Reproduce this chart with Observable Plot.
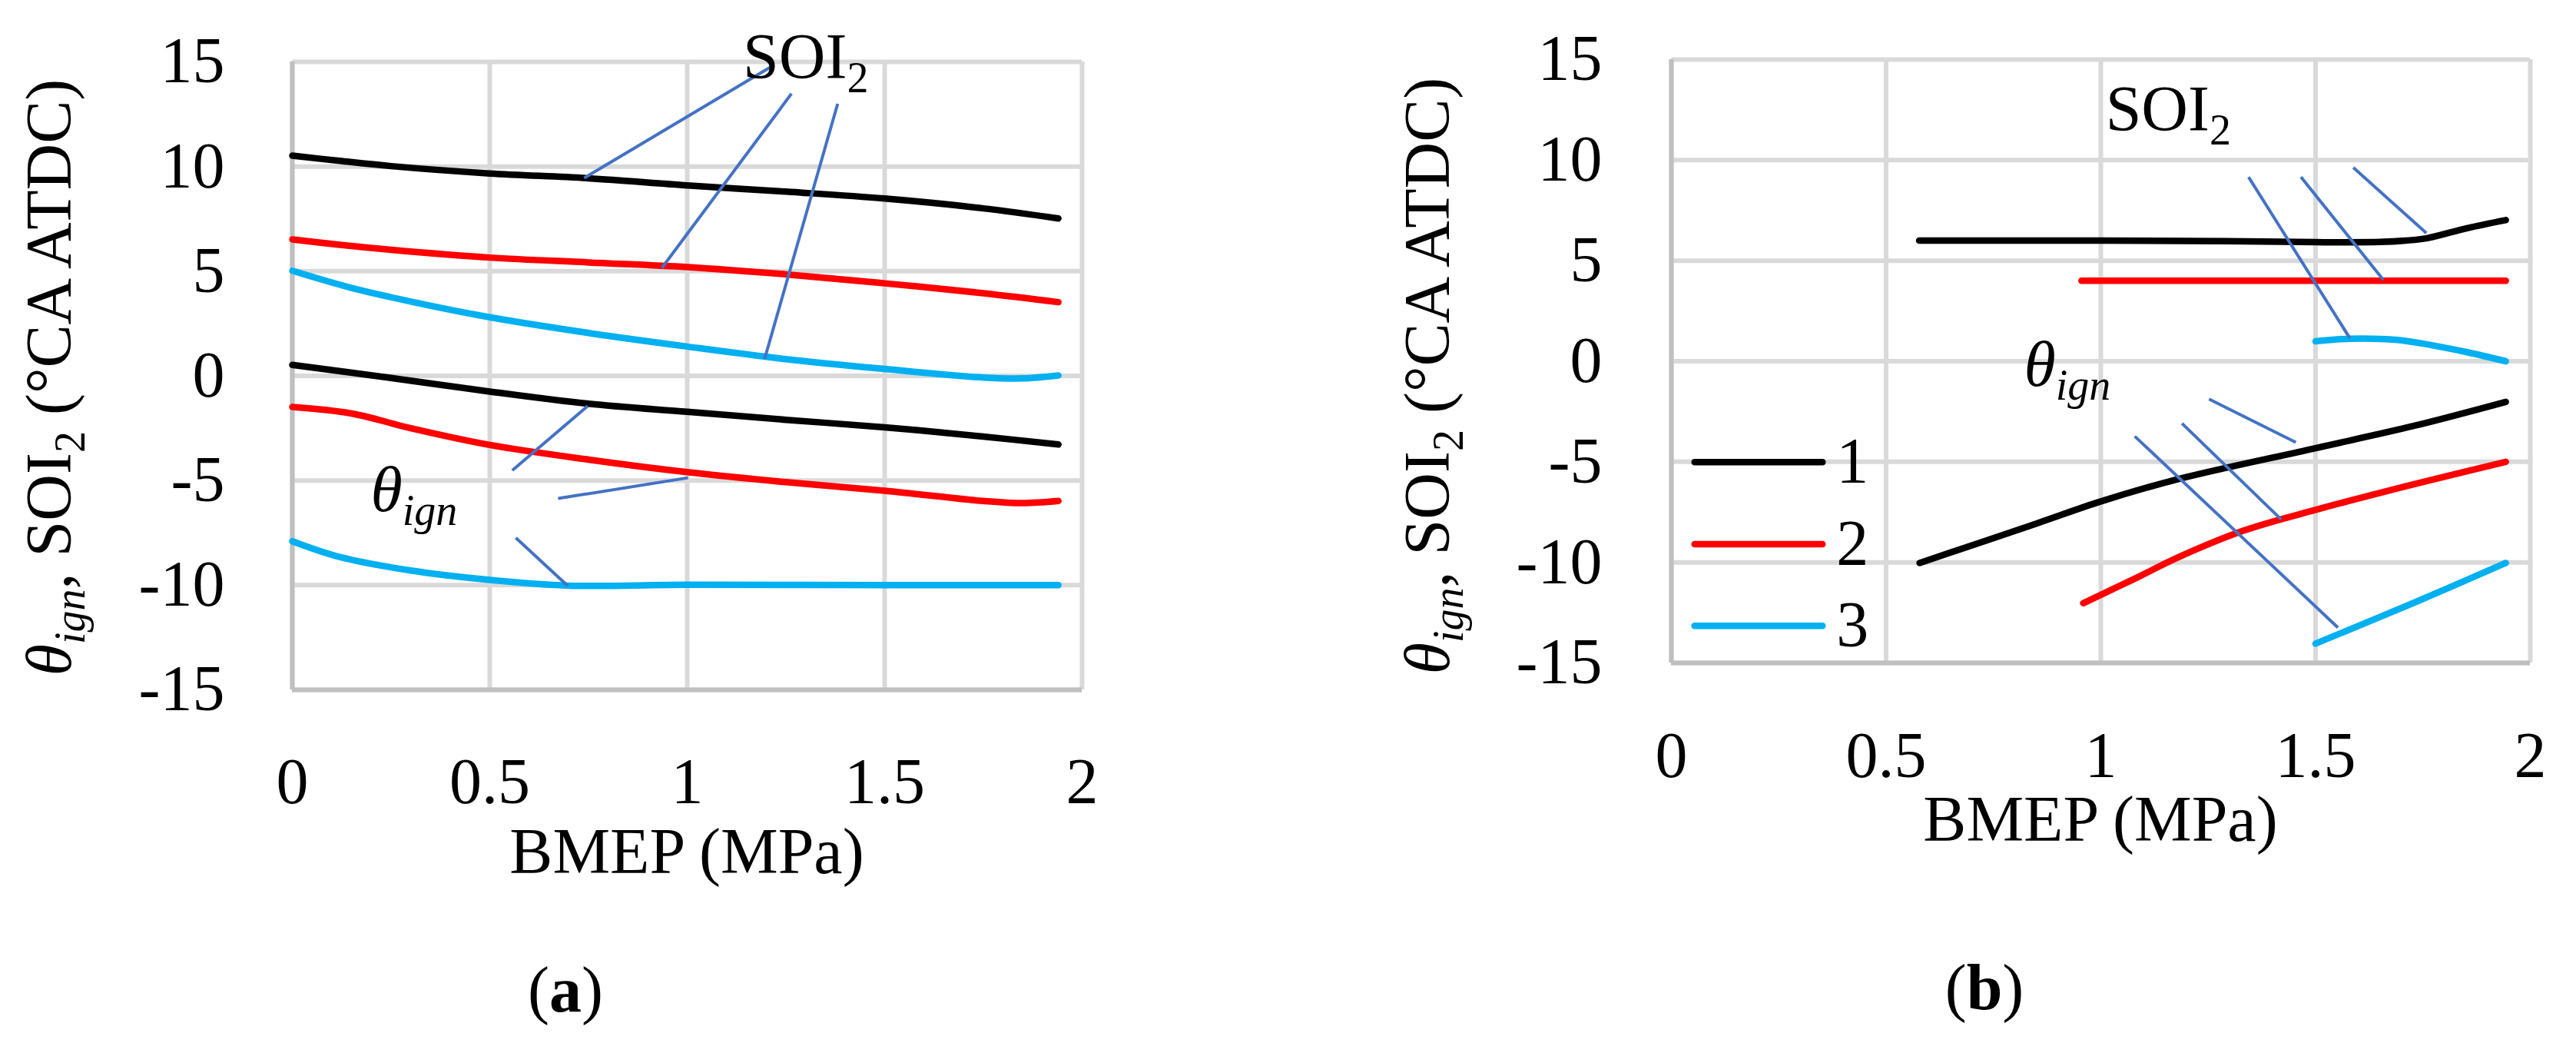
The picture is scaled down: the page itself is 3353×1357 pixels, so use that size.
<!DOCTYPE html>
<html>
<head>
<meta charset="utf-8">
<script src="https://cdn.jsdelivr.net/npm/d3@7"></script>
<script src="https://cdn.jsdelivr.net/npm/@observablehq/plot@0.6"></script>
<style>
  html, body { margin: 0; padding: 0; background: #fff; }
  #fig { position: relative; width: 3353px; height: 1357px; font-family: 'Liberation Serif', serif; color: #000; }
  .panel { position: absolute; top: 0; }
  .cap { position: absolute; font-size: 84px; line-height: 1; transform: translateX(-50%); white-space: nowrap; }
</style>
</head>
<body>
<div id="fig">
  <div id="panelA" class="panel" style="left:0px"></div>
  <div id="panelB" class="panel" style="left:1676px"></div>
  <div class="cap" style="left:736px; top:1246px">(<b>a</b>)</div>
  <div class="cap" style="left:2583px; top:1243px">(<b>b</b>)</div>
</div>
<script>
/* ticks, series names and colours */
const bmepTicks = [0, 0.5, 1, 1.5, 2]
const angleTicks = [-15, -10, -5, 0, 5, 10, 15]
const runs = ['1', '2', '3']
const runColors = ['#000000', '#ff0000', '#00b0f0']

/* (a) SOI2 curves */
const aSoi1X = [0, 0.12, 0.25, 0.5, 0.75, 1.0, 1.25, 1.5, 1.75, 1.94]
const aSoi1Y = [10.52, 10.27, 10.02, 9.67, 9.44, 9.1, 8.8, 8.47, 8.0, 7.52]
const aSoi2X = [0, 0.12, 0.25, 0.5, 0.75, 1.0, 1.25, 1.5, 1.75, 1.94]
const aSoi2Y = [6.52, 6.26, 6.02, 5.65, 5.42, 5.2, 4.85, 4.42, 3.95, 3.52]
const aSoi3X = [0, 0.15, 0.3, 0.5, 0.75, 1.0, 1.25, 1.5, 1.75, 1.85, 1.94]
const aSoi3Y = [5.02, 4.2, 3.55, 2.8, 2.05, 1.4, 0.8, 0.33, -0.08, -0.12, 0.02]

/* (a) ignition angle curves */
const aIgn1X = [0, 0.25, 0.5, 0.75, 1.0, 1.25, 1.5, 1.75, 1.94]
const aIgn1Y = [0.52, -0.1, -0.75, -1.33, -1.72, -2.1, -2.46, -2.9, -3.28]
const aIgn2X = [0, 0.15, 0.3, 0.5, 0.75, 1.0, 1.25, 1.5, 1.75, 1.85, 1.94]
const aIgn2Y = [-1.49, -1.8, -2.5, -3.3, -4.0, -4.6, -5.08, -5.49, -5.98, -6.08, -5.98]
const aIgn3X = [0, 0.12, 0.3, 0.5, 0.7, 1.0, 1.5, 1.94]
const aIgn3Y = [-7.9, -8.65, -9.3, -9.75, -10.02, -9.98, -10.0, -10.0]

/* (b) SOI2 curves */
const bSoi1X = [0.577, 1.0, 1.29, 1.5, 1.65, 1.71, 1.76, 1.853, 1.943]
const bSoi1Y = [6.0, 6.0, 5.97, 5.92, 5.93, 6.0, 6.12, 6.62, 7.02]
const bSoi2X = [0.955, 1.943]
const bSoi2Y = [4.0, 4.0]
const bSoi3X = [1.5, 1.58, 1.69, 1.77, 1.853, 1.943]
const bSoi3Y = [0.99, 1.12, 1.06, 0.8, 0.45, 0.0]

/* (b) ignition angle curves */
const bIgn1X = [0.578, 0.85, 1.0, 1.18, 1.5, 1.73, 1.943]
const bIgn1Y = [-10.03, -8.07, -6.97, -5.86, -4.32, -3.21, -2.02]
const bIgn2X = [0.959, 1.08, 1.18, 1.334, 1.5, 1.73, 1.943]
const bIgn2Y = [-12.03, -10.8, -9.75, -8.41, -7.39, -6.11, -5.0]
const bIgn3X = [1.5, 1.73, 1.943]
const bIgn3Y = [-14.04, -12.0, -10.03]

/* leader lines of the annotations, in data units */
const aLeaders = [
  {x1: 0.739, y1: 9.45, x2: 1.22, y2: 14.85},
  {x1: 0.936, y1: 5.16, x2: 1.264, y2: 13.48},
  {x1: 1.196, y1: 0.81, x2: 1.381, y2: 13.0},
  {x1: 0.557, y1: -4.52, x2: 0.748, y2: -1.44},
  {x1: 0.673, y1: -5.86, x2: 1.002, y2: -4.87},
  {x1: 0.566, y1: -7.74, x2: 0.698, y2: -10.04},
]
const bLeaders = [
  {x1: 1.344, y1: 9.16, x2: 1.58, y2: 1.14},
  {x1: 1.466, y1: 9.16, x2: 1.658, y2: 4.04},
  {x1: 1.588, y1: 9.63, x2: 1.758, y2: 6.37},
  {x1: 1.252, y1: -1.88, x2: 1.454, y2: -4.03},
  {x1: 1.189, y1: -3.09, x2: 1.42, y2: -7.87},
  {x1: 1.079, y1: -3.73, x2: 1.552, y2: -13.24},
]
/* annotation anchors (left end of text baseline) */
const aSoiLabel = [1.301, 14.2]
const aIgnLabel = [0.309, -6.48]
const bSoiLabel = [1.158, 11.46]
const bIgnLabel = [0.923, -1.24]

/* legend of panel (b) */
const legendY = [-5.02, -9.10, -13.16]
const legendX = [0.054, 0.352]
const legendTextX = 0.384

const FONT = "'Liberation Serif', 'Times New Roman', serif"
const FS = 84
const SUB = 56
const SHIFT = 18
const GRID = '#d9d9d9'
const AXIS = '#bfbfbf'
const LEADER = '#4472c4'

function rows(kind, run, xs, ys) {
  return xs.map((x, i) => ({kind, run, x, y: ys[i]}))
}

const dataA = [
  ...rows('soi', '1', aSoi1X, aSoi1Y),
  ...rows('soi', '2', aSoi2X, aSoi2Y),
  ...rows('soi', '3', aSoi3X, aSoi3Y),
  ...rows('ign', '1', aIgn1X, aIgn1Y),
  ...rows('ign', '2', aIgn2X, aIgn2Y),
  ...rows('ign', '3', aIgn3X, aIgn3Y),
]
const dataB = [
  ...rows('soi', '1', bSoi1X, bSoi1Y),
  ...rows('soi', '2', bSoi2X, bSoi2Y),
  ...rows('soi', '3', bSoi3X, bSoi3Y),
  ...rows('ign', '1', bIgn1X, bIgn1Y),
  ...rows('ign', '2', bIgn2X, bIgn2Y),
  ...rows('ign', '3', bIgn3X, bIgn3Y),
]
const legendRows = runs.map((run, i) => ({run, y: legendY[i]}))

function subText(sel, x, y, main, sub, italic) {
  const t = sel.append('text')
    .attr('x', x).attr('y', y)
    .attr('font-size', FS)
    .attr('font-family', FONT)
    .attr('font-style', italic ? 'italic' : null)
  t.append('tspan').text(main)
  t.append('tspan').attr('font-size', SUB).attr('dy', SHIFT).text(sub)
}

function createPanel(cfg) {
  const chart = Plot.plot({
    width: cfg.width,
    height: 1200,
    marginLeft: cfg.ml,
    marginRight: cfg.mr,
    marginTop: cfg.mt,
    marginBottom: cfg.mb,
    x: {domain: [0, 2]},
    y: {domain: [-15, 15]},
    color: {domain: runs, range: runColors},
    style: {fontFamily: FONT, fontSize: FS + 'px', color: '#000', background: 'white', overflow: 'visible'},
    marks: [
      Plot.gridX(bmepTicks, {stroke: GRID, strokeOpacity: 1, strokeWidth: 6}),
      Plot.gridY(angleTicks, {stroke: GRID, strokeOpacity: 1, strokeWidth: 6}),
      Plot.ruleX([0], {stroke: AXIS, strokeWidth: 6}),
      Plot.ruleY([-15], {stroke: AXIS, strokeWidth: 6}),
      Plot.axisX(bmepTicks, {tickSize: 0, tickPadding: cfg.xPad, tickFormat: d => String(d), label: null, fontSize: FS}),
      Plot.axisY(angleTicks, {tickSize: 0, tickPadding: cfg.yPad, tickFormat: d => String(d), label: null, fontSize: FS}),
      Plot.line(cfg.data, {
        x: 'x', y: 'y', z: d => d.kind + d.run, stroke: 'run',
        strokeWidth: 8.5, curve: 'catmull-rom',
      }),
      Plot.link(cfg.leaders, {x1: 'x1', y1: 'y1', x2: 'x2', y2: 'y2', stroke: LEADER, strokeWidth: 4}),
      ...(cfg.extra || []),
    ],
  })

  const svg = d3.select(chart)
  const sx = chart.scale('x')
  const sy = chart.scale('y')
  const px = d3.scaleLinear(sx.domain, sx.range)
  const py = d3.scaleLinear(sy.domain, sy.range)

  /* annotations with subscripts */
  subText(svg, px(cfg.soiLabel[0]), py(cfg.soiLabel[1]), 'SOI', '2', false)
  subText(svg, px(cfg.ignLabel[0]), py(cfg.ignLabel[1]), 'θ', 'ign', true)

  /* x title */
  svg.append('text')
    .attr('x', (sx.range[0] + sx.range[1]) / 2)
    .attr('y', cfg.xTitleY)
    .attr('text-anchor', 'middle')
    .attr('font-size', FS)
    .attr('font-family', FONT)
    .text('BMEP (MPa)')

  /* y title */
  const t = svg.append('text')
    .attr('transform', `translate(${cfg.yTitleX},${cfg.yTitleY}) rotate(-90)`)
    .attr('text-anchor', 'middle')
    .attr('font-size', FS)
    .attr('font-family', FONT)
  t.append('tspan').attr('font-style', 'italic').text('θ')
  t.append('tspan').attr('font-style', 'italic').attr('font-size', SUB).attr('dy', SHIFT).text('ign')
  t.append('tspan').attr('dy', -SHIFT).text(', SOI')
  t.append('tspan').attr('font-size', SUB).attr('dy', SHIFT).text('2')
  t.append('tspan').attr('dy', -SHIFT).text(' (°CA ATDC)')

  d3.select(cfg.target).append(() => chart)
}

createPanel({
  target: '#panelA', width: 1676, data: dataA, leaders: aLeaders,
  ml: 380, mr: 268, mt: 80, mb: 303, xPad: 88, yPad: 88,
  soiLabel: aSoiLabel, ignLabel: aIgnLabel,
  xTitleY: 1136, yTitleX: 92, yTitleY: 491,
})

createPanel({
  target: '#panelB', width: 1677, data: dataB, leaders: bLeaders,
  ml: 499, mr: 60, mt: 77, mb: 338, xPad: 89, yPad: 90,
  soiLabel: bSoiLabel, ignLabel: bIgnLabel,
  xTitleY: 1094, yTitleX: 210, yTitleY: 489,
  extra: [
    Plot.link(legendRows, {x1: legendX[0], x2: legendX[1], y1: 'y', y2: 'y', stroke: 'run', strokeWidth: 8.5, strokeLinecap: 'round'}),
    Plot.text(legendRows, {x: legendTextX, y: 'y', text: 'run', textAnchor: 'start', fontSize: FS}),
  ],
})
</script>
</body>
</html>
